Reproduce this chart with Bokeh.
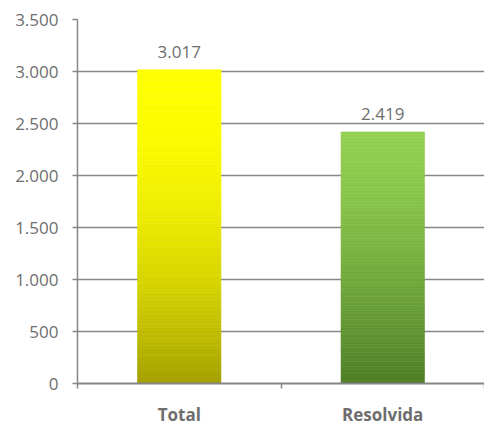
from bokeh.plotting import figure
from bokeh.models import FixedTicker, Range1d, ColumnDataSource
from bokeh.core.properties import value
from bokeh.embed import file_html
from bokeh.resources import INLINE

# ---- data ----
categories = ["Total", "Resolvida"]
counts = [3017, 2419]
y_ticks = [0, 500, 1000, 1500, 2000, 2500, 3000, 3500]
y_tick_labels = ["0", "500", "1.000", "1.500", "2.000", "2.500", "3.000", "3.500"]
count_labels = [f"{v:,}".replace(",", ".") for v in counts]

# ---- styles ----
gradients = [((0xFF, 0xFF, 0x00), (0xA4, 0xA0, 0x00), 2.0),
             ((0x92, 0xD0, 0x50), (0x4E, 0x7D, 0x26), 1.4)]
bar_width = 0.41
N = 90
GRAY = "#868686"
TXT = "#6e6e6e"
FONT = "Open Sans"

p = figure(width=484, height=428, output_backend="svg", toolbar_location=None,
           x_range=Range1d(0, len(categories)), y_range=Range1d(0, 3500),
           min_border_left=77, min_border_right=0, min_border_top=19, min_border_bottom=0)
p.outline_line_color = None
p.background_fill_color = "white"
p.border_fill_color = "white"

centers = [i + 0.5 for i in range(len(categories))]

L, R, B, T, C = [], [], [], [], []
for cx, v, (top_c, bot_c, pw) in zip(centers, counts, gradients):
    for k in range(N):
        b = v * k / N
        t = v * (k + 1) / N
        frac_from_top = 1 - (k + 0.5) / N
        f = frac_from_top ** pw
        col = tuple(int(round(top_c[j] + (bot_c[j] - top_c[j]) * f)) for j in range(3))
        L.append(cx - bar_width / 2)
        R.append(cx + bar_width / 2)
        B.append(b)
        T.append(t)
        C.append("#%02x%02x%02x" % col)

src = ColumnDataSource(dict(left=L, right=R, bottom=B, top=T, color=C))
p.quad(left="left", right="right", bottom="bottom", top="top", source=src,
       fill_color="color", line_color="color", line_width=0.6)

lab_src = ColumnDataSource(dict(x=centers, y=counts, text=count_labels))
p.text(x="x", y="y", text="text", source=lab_src, text_align="center",
       text_baseline="alphabetic", y_offset=-18, text_color=TXT,
       text_font=value(FONT), text_font_size="17px")

# y axis
p.yaxis.ticker = FixedTicker(ticks=y_ticks)
p.yaxis.major_label_overrides = {t: l for t, l in zip(y_ticks, y_tick_labels)}
p.yaxis.major_tick_out = 5
p.yaxis.major_tick_in = 0
p.yaxis.minor_tick_out = 0
p.yaxis.minor_tick_in = 0
p.yaxis.major_label_standoff = 14
p.yaxis.axis_line_color = GRAY
p.yaxis.axis_line_width = 1.5
p.yaxis.major_tick_line_color = GRAY
p.yaxis.major_tick_line_width = 1.5
p.yaxis.major_label_text_color = TXT
p.yaxis.major_label_text_font = FONT
p.yaxis.major_label_text_font_size = "17px"

# x axis
p.xaxis.ticker = FixedTicker(ticks=centers, minor_ticks=list(range(len(categories) + 1)))
p.xaxis.major_label_overrides = {c: n for c, n in zip(centers, categories)}
p.xaxis.major_tick_out = 0
p.xaxis.major_tick_in = 0
p.xaxis.minor_tick_out = 5
p.xaxis.minor_tick_in = 0
p.xaxis.minor_tick_line_color = GRAY
p.xaxis.minor_tick_line_width = 1.5
p.xaxis.major_label_standoff = 14
p.xaxis.axis_line_color = GRAY
p.xaxis.axis_line_width = 2
p.xaxis.major_label_text_color = TXT
p.xaxis.major_label_text_font = FONT
p.xaxis.major_label_text_font_size = "17px"
p.xaxis.major_label_text_font_style = "bold"

p.xgrid.grid_line_color = None
p.ygrid.ticker = FixedTicker(ticks=y_ticks[1:])
p.ygrid.grid_line_color = GRAY
p.ygrid.grid_line_width = 1.5

open("out.html", "w").write(file_html(p, INLINE))
